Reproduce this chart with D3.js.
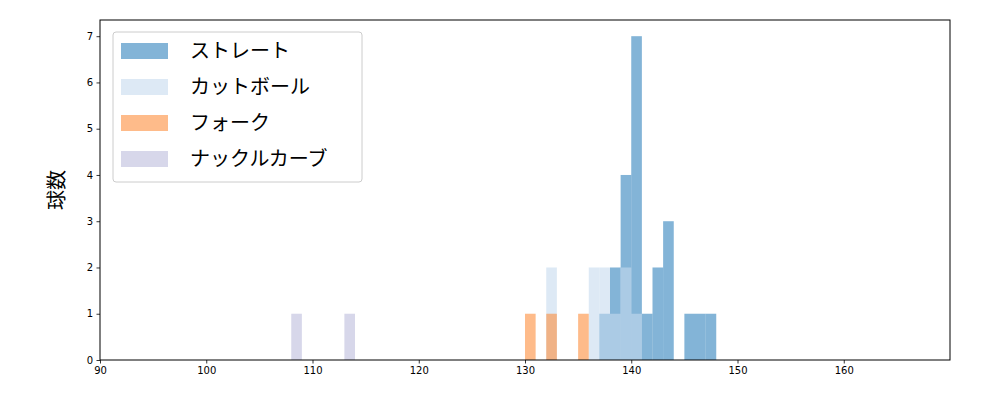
<!DOCTYPE html><html><head><meta charset="utf-8">
<script src="https://cdn.jsdelivr.net/npm/d3@7"></script>
<style>body{margin:0;background:#fff}text{font-family:"DejaVu Sans","Noto Sans CJK JP",sans-serif}</style></head><body>
<svg id="c" width="1000" height="400"></svg>
<script>
const seriesNames=["ストレート","カットボール","フォーク","ナックルカーブ"];
const seriesColors=["#3182bd","#c6dbef","#fd8d3c","#bcbddc"];
const straightBins=[137,138,139,140,141,142,143,145,146,147];
const straightCounts=[1,2,4,7,1,2,3,1,1,1];
const cutBins=[132,136,137,138,139,140];
const cutCounts=[2,2,2,1,2,1];
const forkBins=[130,132,135];
const forkCounts=[1,1,1];
const knuckleBins=[108,113];
const knuckleCounts=[1,1];
const xTicks=[90,100,110,120,130,140,150,160];
const yTicks=[0,1,2,3,4,5,6,7];
const svg=d3.select("#c");
const m={l:100,r:950,t:20,b:360};
const x=d3.scaleLinear().domain([90,170]).range([m.l,m.r]);
const y=d3.scaleLinear().domain([0,7.35]).range([m.b,m.t]);
const all=[[straightBins,straightCounts],[cutBins,cutCounts],[forkBins,forkCounts],[knuckleBins,knuckleCounts]];
all.forEach(([b,c],i)=>{
 svg.append("g").selectAll("rect").data(b.map((v,j)=>({v,c:c[j]}))).join("rect")
  .attr("x",d=>x(d.v)).attr("width",d=>x(d.v+1)-x(d.v))
  .attr("y",d=>y(d.c)).attr("height",d=>y(0)-y(d.c))
  .attr("fill",seriesColors[i]).attr("fill-opacity",0.6);
});
const xa=svg.append("g").attr("transform",`translate(0,${m.b})`).call(d3.axisBottom(x).tickValues(xTicks).tickSize(3.5).tickPadding(3.5));
const ya=svg.append("g").attr("transform",`translate(${m.l},0)`).call(d3.axisLeft(y).tickValues(yTicks).tickSize(3.5).tickPadding(3.5));
[xa,ya].forEach(a=>{a.select(".domain").remove();a.selectAll("text").attr("font-size",10).attr("fill","#000").style("font-family","DejaVu Sans");a.selectAll("line").attr("stroke","#000").attr("stroke-width",0.8);});
svg.append("rect").attr("x",m.l).attr("y",m.t).attr("width",m.r-m.l).attr("height",m.b-m.t).attr("fill","none").attr("stroke","#000").attr("stroke-width",1);
svg.append("text").attr("transform","translate(64,190) rotate(-90)").attr("text-anchor","middle").attr("font-size",20).text("球数");
const lg=svg.append("g");
lg.append("rect").attr("x",113).attr("y",32).attr("width",249).attr("height",150).attr("rx",3).attr("fill","#fff").attr("fill-opacity",0.8).attr("stroke","#ccc");
seriesNames.forEach((n,i)=>{
 lg.append("rect").attr("x",121).attr("y",43+i*36).attr("width",47).attr("height",16).attr("fill",seriesColors[i]).attr("fill-opacity",0.6);
 lg.append("text").attr("x",190).attr("y",58+i*36).attr("font-size",20).text(n);
});
</script></body></html>
